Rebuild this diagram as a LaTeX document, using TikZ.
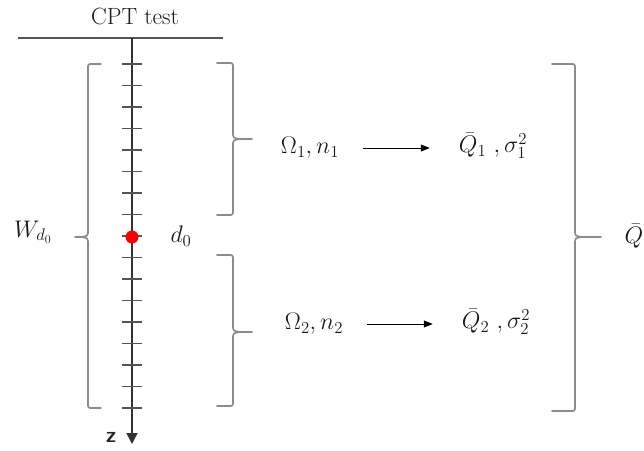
\RequirePackage{fix-cm}
\documentclass[tikz,border=0pt]{standalone}
\usetikzlibrary{arrows.meta,calc}
\definecolor{axisc}{HTML}{333333}
\definecolor{tickc}{HTML}{555555}
\definecolor{bracec}{HTML}{8C8C8C}
\newcommand\mybrace[7]{% #1 x0, #2 xv, #3 xc, #4 y1, #5 ym, #6 y2, #7 direction
  \draw[bracestyle] (#1,#4) -- ({#2-(#7)*5},#4) .. controls (#2,#4) .. (#2,{#4+5})
    -- (#2,{#5-7}) .. controls (#2,{#5-1}) .. ({#2+(#7)*7},#5) -- (#3,#5);
  \draw[bracestyle] ({#2+(#7)*7},#5) .. controls (#2,{#5+1}) .. (#2,{#5+7})
    -- (#2,{#6-5}) .. controls (#2,#6) .. ({#2-(#7)*5},#6) -- (#1,#6);
}
\begin{document}
\begin{tikzpicture}[x=1pt,y=-1pt,
  bracestyle/.style={draw=bracec,line width=1.7pt,line cap=round},
  tickmark/.style={draw=tickc,line width=1.3pt},
  lbl/.style={inner sep=0pt,text=black!90,font=\fontsize{24}{28}\selectfont},
  arr/.style={draw=black,line width=0.9pt,-{Triangle[width=7pt,length=9pt]}}]
\useasboundingbox (0,0) rectangle (644,450);
% title and top line
\node[lbl,font=\fontsize{23.5}{27}\selectfont] (title) at (135,16) {CPT test};
\coordinate (hl) at (18,38);
\coordinate (hr) at (223,38);
\draw[draw=tickc,line width=1.3pt] (hl) -- (hr);
% axis
\coordinate (atop) at (132,38);
\coordinate (abot) at (132,444);
\draw[draw=axisc,line width=1.4pt,-{Triangle[width=11pt,length=11pt]}] (atop) -- (abot);
\foreach \k in {0,...,16}{
  \draw[tickmark] (122,{64+21.5*\k}) -- (142,{64+21.5*\k});
}
\node[circle,fill=red,inner sep=0pt,minimum size=13pt] (dot) at (132,237) {};
\node[font=\sffamily\bfseries\fontsize{22}{24}\selectfont,text=black!85,inner sep=0pt] (zlab) at (111,437) {z};
% labels
\node[lbl] (wd) at (33,232) {$W_{d_0}$};
\node[lbl] (d0) at (181,236) {$d_0$};
% braces
\mybrace{101}{88}{75}{64}{237}{408}{-1}
\mybrace{217}{233}{252}{63}{139}{215}{1}
\mybrace{217}{233}{252}{255}{332}{406}{1}
\mybrace{552}{575}{601}{64}{237}{411}{1}
% right side
\node[lbl] (om1) at (310,148) {$\Omega_1,n_1$};
\node[lbl] (q1) at (493,146) {$\bar{Q}_1\ ,\sigma_1^2$};
\node[lbl] (om2) at (314,324) {$\Omega_2,n_2$};
\node[lbl] (q2) at (496,322) {$\bar{Q}_2\ ,\sigma_2^2$};
\node[lbl] (qbar) at (634,236) {$\bar{Q}$};
\draw[arr] ($(om1.east)+(24,0)$) -- ($(om1.east -| q1.west)+(-29,0)$);
\draw[arr] ($(om2.east)+(24,0)$) -- ($(om2.east -| q2.west)+(-29,0)$);
\end{tikzpicture}
\end{document}
